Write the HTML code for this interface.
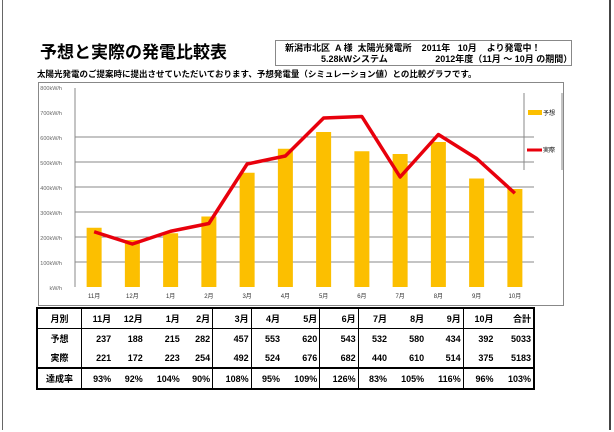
<!DOCTYPE html><html><head><meta charset="utf-8"><style>
body{margin:0;width:614px;height:432px;background:#fff;position:relative;overflow:hidden;font-family:"Liberation Sans","Noto Sans CJK JP",sans-serif}
.b{position:absolute}
table{border-collapse:collapse;font-size:9px;font-weight:bold}
td{height:19px;padding:0 2px;text-align:right}
</style></head><body>
<div class="b" style="left:2px;top:0;width:606px;height:430px;border-left:1px solid #666;border-right:2px solid #444"></div>
<div class="b" style="left:40px;top:38px;font-size:17px;font-weight:bold">予想と実際の発電比較表</div>
<div class="b" style="left:275px;top:40px;width:295px;height:24px;border:1px solid #888;font-size:9px;font-weight:bold;line-height:12px">
<div style="position:absolute;left:9px;top:1px;white-space:pre">新潟市北区  A 様  太陽光発電所    2011年   10月    より発電中！</div>
<div style="position:absolute;left:45px;top:12px;white-space:pre">5.28kWシステム                   2012年度（11月 ～ 10月 の期間）</div></div>
<div class="b" style="left:37px;top:68px;font-size:8.5px;font-weight:bold">太陽光発電のご提案時に提出させていただいております、予想発電量（シミュレーション値）との比較グラフです。</div>
<svg class="b" style="left:0;top:0" width="614" height="432">
<rect x="38.5" y="82.5" width="525" height="223" fill="none" stroke="#888"/>
<g stroke="#888">
<line x1="75" y1="137" x2="534" y2="137"/><line x1="75" y1="162" x2="534" y2="162"/><line x1="75" y1="187" x2="534" y2="187"/><line x1="75" y1="212" x2="534" y2="212"/><line x1="75" y1="237" x2="534" y2="237"/><line x1="75" y1="262" x2="534" y2="262"/>
<line x1="75" y1="88" x2="75" y2="287"/><line x1="524" y1="93" x2="524" y2="170"/><line x1="562" y1="93" x2="562" y2="170"/></g>
<g fill="#666" font-size="5.5" text-anchor="end">
<text x="62" y="90">800kW/h</text><text x="62" y="115">700kW/h</text><text x="62" y="140">600kW/h</text><text x="62" y="165">500kW/h</text><text x="62" y="190">400kW/h</text><text x="62" y="215">300kW/h</text><text x="62" y="240">200kW/h</text><text x="62" y="265">100kW/h</text><text x="62" y="290">kW/h</text></g>
<g fill="#fcbf00" id="bars"></g>
<polyline id="ln" fill="none" stroke="#e8000c" stroke-width="3.5" stroke-linejoin="round"/>
<g font-size="6" text-anchor="middle" fill="#333" id="lab"></g>
<rect x="528" y="110" width="14" height="5" fill="#fcbf00"/><text x="543" y="115" font-size="6">予想</text>
<line x1="527" y1="150" x2="542" y2="150" stroke="#e8000c" stroke-width="3"/><text x="543" y="152" font-size="6">実際</text>
</svg>
<table class="b" style="left:36px;top:307px;width:499px;border:2px solid #000">
<tr style="border-bottom:1px solid #000"><td style="text-align:center;border-right:1px solid #000">月別</td><td>11月</td><td>12月</td><td>1月</td><td style="border-right:1px solid #000">2月</td><td style="border-right:1px solid #000">3月</td><td>4月</td><td style="border-right:1px solid #000">5月</td><td style="border-right:1px solid #000">6月</td><td>7月</td><td>8月</td><td style="border-right:1px solid #000">9月</td><td>10月</td><td>合計</td></tr>
<tr><td style="text-align:center;border-right:1px solid #000">予想</td><td>237</td><td>188</td><td>215</td><td style="border-right:1px solid #000">282</td><td style="border-right:1px solid #000">457</td><td>553</td><td style="border-right:1px solid #000">620</td><td style="border-right:1px solid #000">543</td><td>532</td><td>580</td><td style="border-right:1px solid #000">434</td><td>392</td><td>5033</td></tr>
<tr><td style="text-align:center;border-right:1px solid #000">実際</td><td>221</td><td>172</td><td>223</td><td style="border-right:1px solid #000">254</td><td style="border-right:1px solid #000">492</td><td>524</td><td style="border-right:1px solid #000">676</td><td style="border-right:1px solid #000">682</td><td>440</td><td>610</td><td style="border-right:1px solid #000">514</td><td>375</td><td>5183</td></tr>
<tr style="border-top:2px solid #000"><td style="text-align:center;border-right:1px solid #000">達成率</td><td>93%</td><td>92%</td><td>104%</td><td style="border-right:1px solid #000">90%</td><td style="border-right:1px solid #000">108%</td><td>95%</td><td style="border-right:1px solid #000">109%</td><td style="border-right:1px solid #000">126%</td><td>83%</td><td>105%</td><td style="border-right:1px solid #000">116%</td><td>96%</td><td>103%</td></tr>
</table>
<script>
var p=[237,188,215,282,457,553,620,543,532,580,434,392],a=[221,172,223,254,492,524,676,682,440,610,514,375],m=["11月","12月","1月","2月","3月","4月","5月","6月","7月","8月","9月","10月"];
var ns="http://www.w3.org/2000/svg",b=document.getElementById("bars"),l=document.getElementById("lab"),pts=[];
for(var i=0;i<12;i++){var cx=75+38.25*(i+.5);var r=document.createElementNS(ns,"rect");var h=p[i]*0.25;r.setAttribute("x",cx-7.5);r.setAttribute("y",287-h);r.setAttribute("width",15);r.setAttribute("height",h);b.appendChild(r);
pts.push(cx+","+(287-a[i]*0.25));var t=document.createElementNS(ns,"text");t.setAttribute("x",cx);t.setAttribute("y",298);t.textContent=m[i];l.appendChild(t);}
document.getElementById("ln").setAttribute("points",pts.join(" "));
</script>
</body></html>
